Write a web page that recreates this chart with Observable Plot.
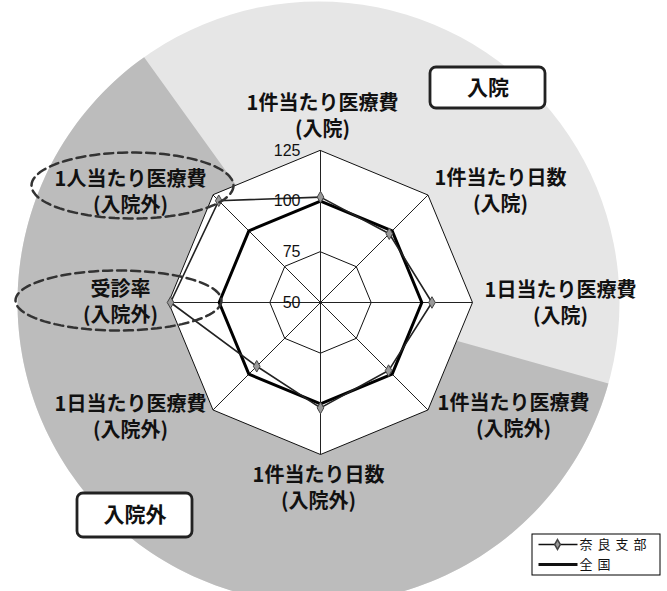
<!DOCTYPE html>
<html>
<head>
<meta charset="utf-8">
<script src="https://cdn.jsdelivr.net/npm/d3@7"></script>
<script src="https://cdn.jsdelivr.net/npm/@observablehq/plot@0.6"></script>
<style>
  html, body { margin: 0; padding: 0; background: #fff; overflow: hidden; }
  #chart { width: 667px; height: 591px; }
</style>
</head>
<body>
<div id="chart"></div>
<script>
// ---------- data ----------
const categories = [
  "1件当たり医療費\n(入院)",
  "1件当たり日数\n(入院)",
  "1日当たり医療費\n(入院)",
  "1件当たり医療費\n(入院外)",
  "1件当たり日数\n(入院外)",
  "1日当たり医療費\n(入院外)",
  "受診率\n(入院外)",
  "1人当たり医療費\n(入院外)"
];
const naraValues = [102, 98, 105, 97.5, 102, 94.5, 124, 121];
const nationalValues = [100, 100, 100, 100, 100, 100, 100, 100];
const tickValues = [50, 75, 100, 125];
const seriesNames = ["奈良支部", "全国"];
const sectionNames = ["入院", "入院外"];
const highlighted = [7, 6]; // categories circled with dashed ellipses

// ---------- layout ----------
const W = 667, H = 591;
const CX = 320, CY = 302;          // radar centre (px)
const RMIN = 50, RMAX = 125;
const K = 152 / (RMAX - RMIN);     // px per unit
const px = (x, y) => ({x: (x - CX) / K, y: (CY - y) / K});
const n = categories.length;
const ang = i => i * 2 * Math.PI / n;
const polar = (v, i) => ({x: (v - RMIN) * Math.sin(ang(i)), y: (v - RMIN) * Math.cos(ang(i))});

const labelPx = [[322,114],[500,189],[560,301],[513,414],[318,486],[130,415],[120,300],[130,190]];
const ellipsePx = [[132,185,101,33],[118,300,103,30]];
const boxPx = [[430,67,545,108],[77,493,192,537]];

// background disc and dark wedge
const BG = {cx: 318, cy: 302, r: 301};
const wedge = [px(CX, CY)];
for (let a = 15.6; a <= 235.1 + 0.001; a += 1.5) {
  const t = a * Math.PI / 180;
  wedge.push(px(BG.cx + BG.r * Math.cos(t), BG.cy + BG.r * Math.sin(t)));
}

const rings = tickValues.filter(t => t > RMIN).flatMap(t =>
  d3.range(n).map(i => ({ring: t, ...polar(t, i)})));
const outer = d3.range(n).map(i => polar(RMAX, i));
const naraPts = naraValues.map((v, i) => ({series: seriesNames[0], ...polar(v, i)}));
const natPts = nationalValues.map((v, i) => ({series: seriesNames[1], ...polar(v, i)}));
const labels = categories.map((c, i) => ({text: c, ...px(labelPx[i][0], labelPx[i][1])}));

const ellipses = highlighted.flatMap((ci, k) => {
  const [ex, ey, rx, ry] = ellipsePx[k];
  return d3.range(0, 361, 4).map(a => {
    const t = a * Math.PI / 180;
    return {e: k, ...px(ex + rx * Math.cos(t), ey + ry * Math.sin(t))};
  });
});
const boxes = sectionNames.map((s, i) => {
  const [x1, y1, x2, y2] = boxPx[i];
  const a = px(x1, y1), b = px(x2, y2);
  return {text: s, x1: a.x, y1: a.y, x2: b.x, y2: b.y, cx: (a.x + b.x) / 2, cy: (a.y + b.y) / 2};
});

// legend
const legA = px(532, 534), legB = px(660, 575);
const legBox = [{x1: legA.x, y1: legA.y, x2: legB.x, y2: legB.y}];
const legRows = seriesNames.map((s, i) => {
  const y = 544 + i * 20;
  const a = px(538, y), b = px(577, y), m = px(557, y), t = px(579, y);
  return {name: s, x1: a.x, x2: b.x, y: a.y, mx: m.x, tx: t.x};
});

const plot = Plot.plot({
  width: W, height: H,
  margin: 0,
  x: {domain: [-CX / K, (W - CX) / K], range: [0, W], axis: null},
  y: {domain: [-(H - CY) / K, CY / K], range: [H, 0], axis: null},
  style: {background: "white", overflow: "hidden"},
  marks: [
    // background disc + wedge
    Plot.dot([px(BG.cx, BG.cy)], {x: "x", y: "y", r: BG.r, fill: "#e6e6e6", stroke: "none"}),
    Plot.line(wedge, {x: "x", y: "y", fill: "#bcbcbc", stroke: "none", curve: "linear-closed"}),
    // radar plate
    Plot.line(outer, {x: "x", y: "y", fill: "white", stroke: "none", curve: "linear-closed"}),
    Plot.line(rings, {x: "x", y: "y", z: "ring", stroke: "#111", strokeWidth: 1, curve: "linear-closed"}),
    Plot.link(outer, {x1: 0, y1: 0, x2: "x", y2: "y", stroke: "#222", strokeWidth: 1}),
    // series
    Plot.line(natPts, {x: "x", y: "y", stroke: "#000", strokeWidth: 3, curve: "linear-closed"}),
    Plot.line(naraPts, {x: "x", y: "y", stroke: "#222", strokeWidth: 1.6, curve: "linear-closed"}),
    Plot.dot(naraPts, {x: "x", y: "y", symbol: "diamond", r: 3.5, fill: "#999", stroke: "#444", strokeWidth: 1}),
    // tick labels
    Plot.text(tickValues, {x: 0, y: d => d - RMIN, text: d => String(d), dx: -20, textAnchor: "end",
      fontSize: 16, fontFamily: "Liberation Sans, Arial, sans-serif", fill: "#111"}),
    // category labels
    Plot.text(labels, {x: "x", y: "y", text: "text", fontSize: 20, fontWeight: "bold", lineHeight: 1.33,
      fontFamily: "Noto Sans CJK JP, sans-serif", fill: "#111", stroke: "none"}),
    // dashed ellipses
    Plot.line(ellipses, {x: "x", y: "y", z: "e", stroke: "#333", strokeWidth: 2.5, strokeDasharray: "9,5"}),
    // section boxes
    Plot.rect(boxes, {x1: "x1", x2: "x2", y1: "y1", y2: "y2", fill: "white", stroke: "#222", strokeWidth: 2.8, rx: 6}),
    Plot.text(boxes, {x: "cx", y: "cy", text: "text", fontSize: 21, fontWeight: "bold",
      fontFamily: "Noto Sans CJK JP, sans-serif", fill: "#111"}),
    // legend
    Plot.rect(legBox, {x1: "x1", x2: "x2", y1: "y1", y2: "y2", fill: "white", stroke: "#000", strokeWidth: 1}),
    Plot.link(legRows, {x1: "x1", x2: "x2", y1: "y", y2: "y", stroke: "#111",
      strokeWidth: d => d.name === seriesNames[0] ? 1.6 : 3}),
    Plot.dot(legRows.filter(d => d.name === seriesNames[0]), {x: "mx", y: "y", symbol: "diamond", r: 3, fill: "#999", stroke: "#444"}),
    Plot.text(legRows, {x: "tx", y: "y", text: "name", textAnchor: "start", fontSize: 13,
      fontFamily: "Noto Sans CJK JP, sans-serif", fill: "#111"})
  ]
});
// widen legend lettering like the reference
const textGroups = plot.querySelectorAll('g[aria-label="text"]');
textGroups[textGroups.length - 1].style.letterSpacing = "5px";
document.getElementById("chart").appendChild(plot);
</script>
</body>
</html>
